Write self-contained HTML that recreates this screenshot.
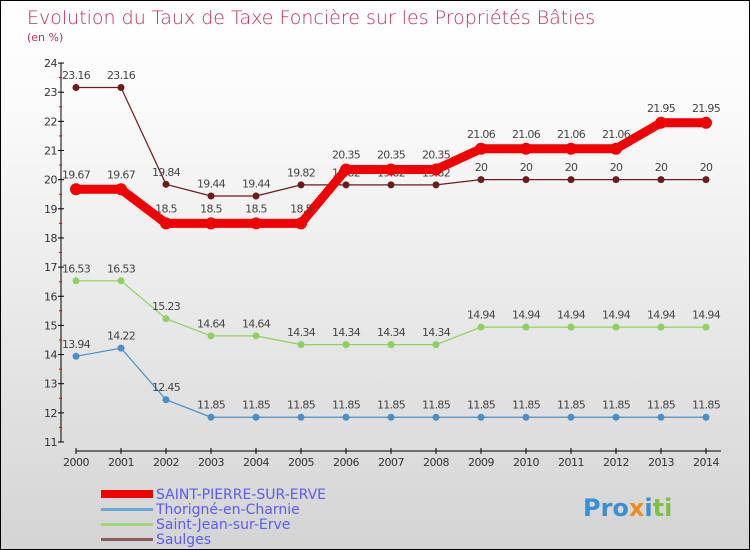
<!DOCTYPE html>
<html><head><meta charset="utf-8"><style>
body{margin:0;}
#c{width:750px;height:550px;position:relative;box-sizing:border-box;border:1px solid #000;background:linear-gradient(#fff,#fafafa 20%,#d4d4d4);font-family:"DejaVu Sans","Liberation Sans",sans-serif;overflow:hidden}
</style></head><body>
<div id="c">
<svg id="s" width="750" height="550" style="position:absolute;left:0;top:0">
<text x="26" y="23" font-size="19" fill="#c0305a" font-family="DejaVu Sans, sans-serif" font-weight="200">Evolution du Taux de Taxe Foncière sur les Propriétés Bâties</text>
<text x="26" y="40" font-size="11" fill="#c0305a">(en %)</text>
<g id="axes"></g><g id="series"></g>
<g>
<rect x="100" y="489" width="52" height="8" fill="#e00"/>
<text x="155" y="498" font-size="14" fill="#5b5bf5">SAINT-PIERRE-SUR-ERVE</text>
<rect x="100" y="507" width="52" height="3" fill="#6aa8d4"/>
<text x="155" y="513" font-size="14" fill="#5b5bf5">Thorigné-en-Charnie</text>
<rect x="100" y="522" width="52" height="3" fill="#9fd67e"/>
<text x="155" y="528" font-size="14" fill="#5b5bf5">Saint-Jean-sur-Erve</text>
<rect x="100" y="537" width="52" height="3" fill="#8b5a5a"/>
<text x="155" y="543" font-size="14" fill="#5b5bf5">Saulges</text>
</g>
<text x="582" y="515" font-size="24" font-weight="bold"><tspan fill="#3a8fd0">Pro</tspan><tspan fill="#f08a1c">x</tspan><tspan fill="#3a8fd0">i</tspan><tspan fill="#7cc242">ti</tspan></text>
</svg>
</div>
<script>
const years=[2000,2001,2002,2003,2004,2005,2006,2007,2008,2009,2010,2011,2012,2013,2014];
const saintPierre=[19.67,19.67,18.5,18.5,18.5,18.5,20.35,20.35,20.35,21.06,21.06,21.06,21.06,21.95,21.95];
const thorigne=[13.94,14.22,12.45,11.85,11.85,11.85,11.85,11.85,11.85,11.85,11.85,11.85,11.85,11.85,11.85];
const saintJean=[16.53,16.53,15.23,14.64,14.64,14.34,14.34,14.34,14.34,14.94,14.94,14.94,14.94,14.94,14.94];
const saulges=[23.16,23.16,19.84,19.44,19.44,19.82,19.82,19.82,19.82,20,20,20,20,20,20];
const yTicks=[11,12,13,14,15,16,17,18,19,20,21,22,23,24];
const NS="http://www.w3.org/2000/svg";
function x(i){return 75+i*45;}
function y(v){return 441-(v-11)*29.15;}
function mk(t,a,p){const e=document.createElementNS(NS,t);for(const k in a)e.setAttribute(k,a[k]);p.appendChild(e);return e;}
const ax=document.getElementById('axes');
let e=mk('line',{x1:60,y1:y(24),x2:60,y2:y(11),stroke:'#000'},ax);

e=mk('line',{x1:75,y1:450,x2:720,y2:450,stroke:'#000'},ax);

yTicks.forEach(v=>{
 mk('line',{x1:57,y1:y(v),x2:63,y2:y(v),stroke:'#000'},ax);
 if(v<24)mk('line',{x1:58,y1:y(v+0.5),x2:61,y2:y(v+0.5),stroke:'#e00'},ax);
 const t=mk('text',{x:56,y:y(v)+4,'font-size':11,fill:'#333','text-anchor':'end','letter-spacing':'-0.5'},ax);t.textContent=v;
 
});
years.forEach((yr,i)=>{
 mk('line',{x1:x(i),y1:447,x2:x(i),y2:453,stroke:'#000'},ax);
 const t=mk('text',{x:x(i),y:465,'font-size':11,fill:'#333','text-anchor':'middle','letter-spacing':'-0.5'},ax);t.textContent=yr;
 
});
const sg=document.getElementById('series');
function series(vals,color,w,r,name){
 const g=mk('g',{},sg);
 
 const p=mk('polyline',{points:vals.map((v,i)=>x(i)+','+y(v)).join(' '),fill:'none',stroke:color,'stroke-width':w},g);
 
 vals.forEach((v,i)=>{
  const c=mk('circle',{cx:x(i),cy:y(v),r:r,fill:color},g);
  
  const t=mk('text',{x:x(i),y:y(v)-(r+5),'font-size':11,fill:'#444','text-anchor':'middle','letter-spacing':'-0.7'},g);
  t.textContent=v;
  
 });
}
series(saulges,'#6b1c1c',1.2,3.5,'saulges');
series(saintJean,'#8fd060',1.2,3.5,'saint-jean');
series(thorigne,'#4a8fc8',1.2,3.5,'thorigne');
series(saintPierre,'#f00000',9,6,'saint-pierre');
</script>
</body></html>
